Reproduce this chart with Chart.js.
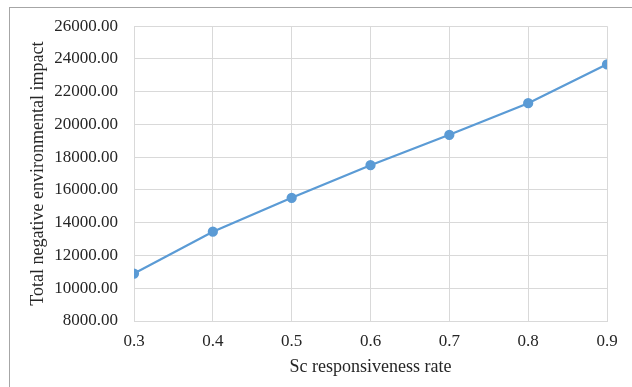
<!DOCTYPE html>
<html>
<head>
<meta charset="utf-8">
<script src="https://cdn.jsdelivr.net/npm/chart.js@4/dist/chart.umd.min.js"></script>
<style>
  html, body { margin: 0; padding: 0; background: #ffffff; }
  #wrap { position: relative; width: 632px; height: 387px; }
  #frame { position: absolute; left: 9px; top: 7px; right: 0; bottom: 0;
           border-top: 1px solid #a6a6a6; border-left: 1px solid #a6a6a6; pointer-events: none; }
  canvas { position: absolute; left: 0; top: 0; }
</style>
</head>
<body>
<div id="wrap">
  <canvas id="c" width="632" height="387"></canvas>
  <div id="frame"></div>
</div>
<script>
const rates = [0.3, 0.4, 0.5, 0.6, 0.7, 0.8, 0.9];
const impact = [10900, 13450, 15520, 17510, 19370, 21300, 23670];
const yMin = 8000, yMax = 26000, yStep = 2000;
const xMin = 0.3, xMax = 0.9, xStep = 0.1;
const xTitle = 'Sc responsiveness rate';
const yTitle = 'Total negative environmental impact';

const family = '"Liberation Serif", "Times New Roman", serif';
const tickFont = { family: family, size: 17 };
const titleFont = { family: family, size: 18 };
const grid = '#d9d9d9';

new Chart(document.getElementById('c'), {
  type: 'line',
  data: {
    datasets: [{
      data: rates.map((r, i) => ({ x: r, y: impact[i] })),
      borderColor: '#5b9bd5',
      backgroundColor: '#5b9bd5',
      borderWidth: 2.25,
      pointRadius: 4,
      pointHoverRadius: 4,
      tension: 0,
      fill: false
    }]
  },
  options: {
    responsive: false,
    animation: false,
    devicePixelRatio: 1,
    layout: { padding: { top: 24, right: 25, left: 0, bottom: 0 } },
    plugins: { legend: { display: false }, tooltip: { enabled: false } },
    scales: {
      x: {
        type: 'linear', min: xMin, max: xMax,
        ticks: { stepSize: xStep, color: '#262626', font: tickFont, padding: 10,
                 callback: v => v.toFixed(1), maxRotation: 0 },
        grid: { color: grid, drawTicks: false, lineWidth: 1 },
        border: { color: grid },
        title: { display: true, text: xTitle, color: '#262626', font: titleFont, padding: { top: 0, bottom: 9 } },
        afterFit: s => { s.height = 66; }
      },
      y: {
        min: yMin, max: yMax,
        ticks: { stepSize: yStep, color: '#262626', font: tickFont, padding: 16,
                 callback: v => v.toFixed(2) },
        grid: { color: grid, drawTicks: false, lineWidth: 1 },
        border: { color: grid },
        title: { display: true, text: yTitle, color: '#262626', font: titleFont, padding: { top: 27, bottom: 0 } },
        afterFit: s => { s.width = 134; }
      }
    }
  }
});
</script>
</body>
</html>
